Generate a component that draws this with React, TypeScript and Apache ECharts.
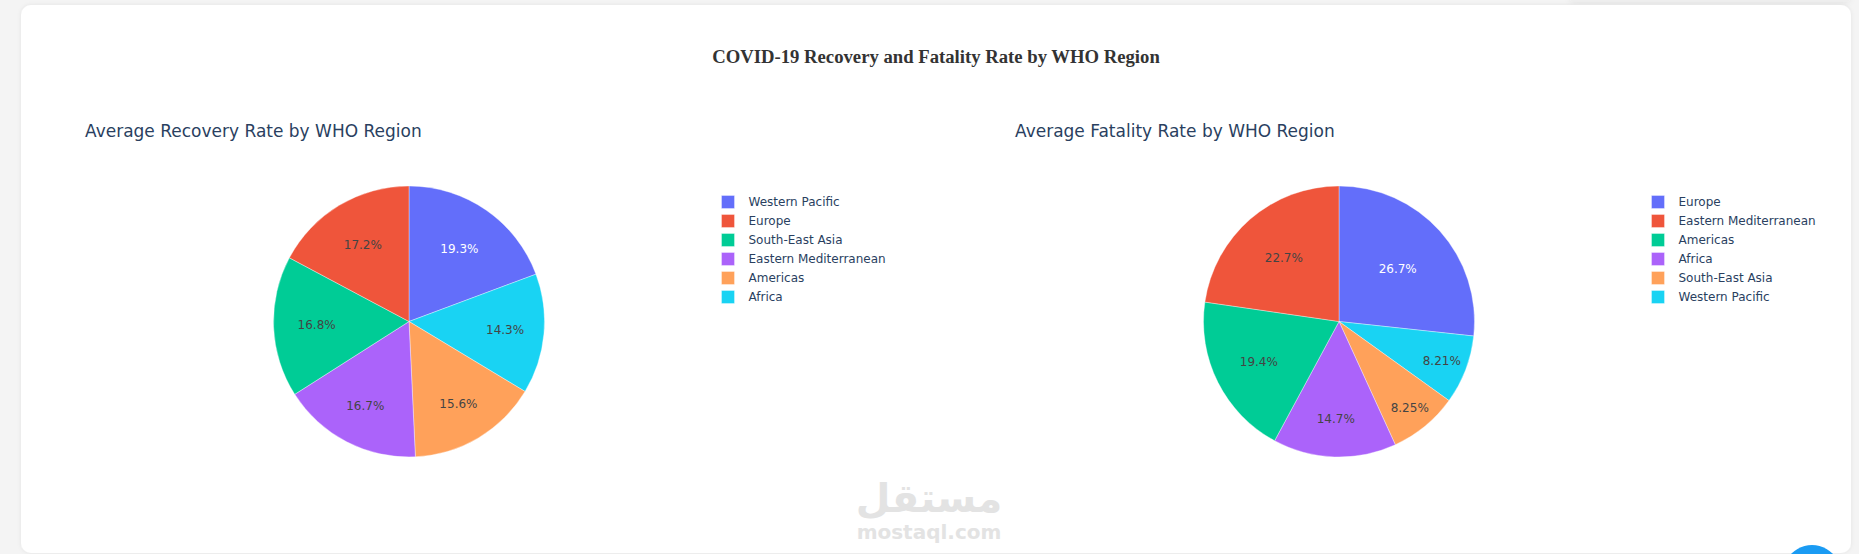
import React, { useEffect, useRef } from "react";
import * as echarts from "echarts";

const mainTitle = "COVID-19 Recovery and Fatality Rate by WHO Region";
const recoveryTitle = "Average Recovery Rate by WHO Region";
const fatalityTitle = "Average Fatality Rate by WHO Region";

// Legend order (as shown in the reference)
const recoveryRegions = ["Western Pacific", "Europe", "South-East Asia", "Eastern Mediterranean", "Americas", "Africa"];
const recoveryValues = [19.3, 17.2, 16.8, 16.7, 15.6, 14.3];

const fatalityRegions = ["Europe", "Eastern Mediterranean", "Americas", "Africa", "South-East Asia", "Western Pacific"];
const fatalityValues = [26.7, 22.7, 19.4, 14.7, 8.25, 8.21];

const palette = ["#636efa", "#EF553B", "#00cc96", "#ab63fa", "#FFA15A", "#19d3f3"];

// style: radial position of each inside label, as a fraction of the pie radius
const recoveryLabelRadius = [0.63, 0.64, 0.66, 0.68, 0.69, 0.69];
const fatalityLabelRadius = [0.56, 0.6, 0.64, 0.7, 0.8, 0.79];

const FONT = '"DejaVu Sans", Verdana, sans-serif';

function pieItems(names: string[], values: number[], labelFor: number) {
  const items = names.map((n, i) => ({
    name: n,
    value: values[i],
    itemStyle: { color: palette[i] },
    label: { show: labelFor === -1 ? false : labelFor === i, color: i === 0 ? "#ffffff" : "#444444" },
  }));
  // first slice goes clockwise from 12 o'clock, the rest follow counterclockwise
  return [items[0], ...items.slice(1).reverse()];
}

function makeSeries(names: string[], values: number[], ratios: number[], cx: number, cy: number, r: number) {
  const visible = {
    type: "pie",
    center: [cx, cy],
    radius: [0, r],
    startAngle: 90,
    clockwise: true,
    avoidLabelOverlap: false,
    label: { show: false },
    labelLine: { show: false },
    emphasis: { disabled: true },
    itemStyle: { borderColor: "rgba(255,255,255,0.6)", borderWidth: 0.6 },
    data: pieItems(names, values, -1),
    z: 2,
  };
  const overlays = names.map((_, k) => ({
    type: "pie",
    center: [cx, cy],
    radius: [Math.max(0, (2 * ratios[k] - 1) * r), r],
    startAngle: 90,
    clockwise: true,
    silent: true,
    avoidLabelOverlap: false,
    percentPrecision: 4,
    label: {
      position: "inside",
      fontFamily: FONT,
      fontSize: 12,
      formatter: (p: any) => Number(p.percent.toPrecision(3)) + "%",
    },
    labelLine: { show: false },
    emphasis: { disabled: true },
    itemStyle: { color: "rgba(0,0,0,0)", borderWidth: 0 },
    data: pieItems(names, values, k).map((d) => ({ ...d, itemStyle: { color: "rgba(0,0,0,0)" } })),
    z: 3,
  }));
  return [visible, ...overlays];
}

function makeLegend(names: string[], left: number, top: number) {
  return {
    orient: "vertical",
    left,
    top,
    padding: 0,
    itemWidth: 13,
    itemHeight: 13,
    itemGap: 5,
    icon: "rect",
    selectedMode: false,
    textStyle: { fontFamily: FONT, fontSize: 12, color: "#2a3f5f", lineHeight: 13, padding: [0, 0, 0, 9] },
    data: names.map((n, i) => ({
      name: n,
      itemStyle: { color: palette[i], borderColor: "rgba(255,255,255,0.35)", borderWidth: 1 },
    })),
  };
}

export default function App() {
  const ref = useRef<HTMLDivElement>(null);
  useEffect(() => {
    if (!ref.current) return;
    const chart = echarts.init(ref.current, undefined, { renderer: "svg" });
    const option: any = {
      animation: false,
      backgroundColor: "#f4f4f4",
      graphic: [
        {
          type: "rect",
          z: -10,
          shape: { x: 1570, y: -6, width: 280, height: 8, r: 4 },
          style: { fill: "#eeeeee", shadowBlur: 6, shadowColor: "rgba(0,0,0,0.08)" },
        },
        {
          type: "rect",
          z: -5,
          shape: { x: 21, y: 5, width: 1830, height: 548, r: 10 },
          style: { fill: "#ffffff", shadowBlur: 4, shadowColor: "rgba(0,0,0,0.07)" },
        },
        {
          type: "text",
          x: 936,
          y: 56,
          style: {
            text: mainTitle,
            font: 'bold 18.7px "Liberation Serif", "Times New Roman", serif',
            fill: "#333333",
            align: "center",
            verticalAlign: "middle",
          },
        },
        {
          type: "text",
          x: 85,
          y: 131,
          style: { text: recoveryTitle, font: "17px " + FONT, fill: "#2a3f5f", align: "left", verticalAlign: "middle" },
        },
        {
          type: "text",
          x: 1015,
          y: 131,
          style: { text: fatalityTitle, font: "17px " + FONT, fill: "#2a3f5f", align: "left", verticalAlign: "middle" },
        },
        {
          type: "text",
          z: 100,
          x: 929,
          y: 498,
          style: { text: "مستقل", font: 'bold 40px "DejaVu Sans", sans-serif', fill: "#e3e3e3", align: "center", verticalAlign: "middle" },
        },
        {
          type: "text",
          z: 100,
          x: 929,
          y: 532,
          style: { text: "mostaql.com", font: 'bold 20px "DejaVu Sans", sans-serif', fill: "#e3e3e3", align: "center", verticalAlign: "middle" },
        },
        {
          type: "circle",
          z: 100,
          shape: { cx: 1812, cy: 574, r: 29 },
          style: { fill: "#1a9bf3" },
        },
      ],
      legend: [makeLegend(recoveryRegions, 721, 195), makeLegend(fatalityRegions, 1651, 195)],
      series: [
        ...makeSeries(recoveryRegions, recoveryValues, recoveryLabelRadius, 409, 321.5, 135.5),
        ...makeSeries(fatalityRegions, fatalityValues, fatalityLabelRadius, 1339, 321.5, 135.5),
      ],
    };
    chart.setOption(option);
    return () => chart.dispose();
  }, []);
  return <div ref={ref} style={{ position: "absolute", left: 0, top: 0, width: 1859, height: 554 }} />;
}
